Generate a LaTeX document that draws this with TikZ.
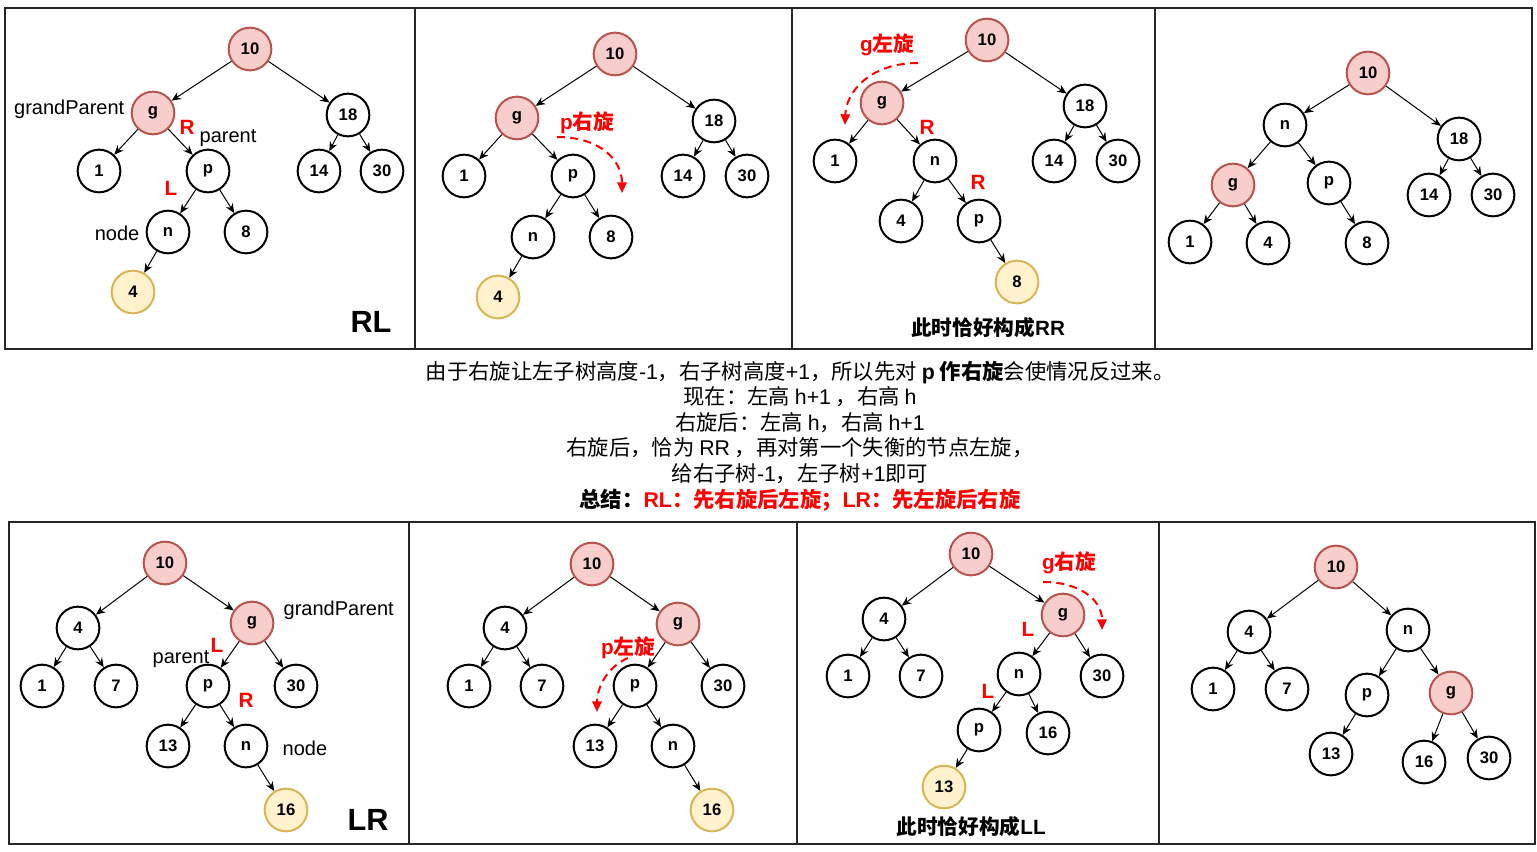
\documentclass[tikz,border=0pt]{standalone}
\usepackage{fontspec}
\setmainfont{Liberation Sans}
\newfontfamily\cjk{Noto Sans CJK SC}
\usetikzlibrary{arrows.meta}
\definecolor{pinkfill}{HTML}{F8CECC}
\definecolor{pinkline}{HTML}{B85450}
\definecolor{yelfill}{HTML}{FFF2CC}
\definecolor{yelline}{HTML}{D6B656}
\newcommand{\la}[1]{{\rmfamily #1}}

\begin{document}
\begin{tikzpicture}[x=0.75pt, y=-0.75pt,
    nd/.style={circle, draw, line width=1.5pt, minimum size=32pt, inner sep=0pt, fill=white, font=\fontsize{12.5}{12.5}\selectfont\bfseries},
    pk/.style={nd, draw=pinkline, fill=pinkfill},
    yl/.style={nd, draw=yelline, fill=yelfill},
    link/.style={-{Stealth[length=7pt, width=6pt]}, line width=0.75pt},
    panel/.style={line width=1.5pt, draw=black!85},
    note/.style={font=\fontsize{15}{15}\selectfont},
    redtag/.style={text=red, font=\fontsize{15.5}{15.5}\selectfont\bfseries},
    turn/.style={red, line width=1.5pt, dash pattern=on 6pt off 4pt, -{Triangle[length=8pt, width=7pt]}},
    big/.style={font=\fontsize{23}{23}\selectfont\bfseries},
    caption/.style={font=\cjk\fontsize{15.5}{15.5}\selectfont\bfseries}]

    \useasboundingbox (0,0) rectangle (1537,852);

    % FRAMES
    \draw[panel] (5,8) rectangle (415,349);
    \draw[panel] (415,8) rectangle (792,349);
    \draw[panel] (792,8) rectangle (1155,349);
    \draw[panel] (1155,8) rectangle (1532,349);
    \draw[panel] (9,522) rectangle (409,844);
    \draw[panel] (409,522) rectangle (797,844);
    \draw[panel] (797,522) rectangle (1159,844);
    \draw[panel] (1159,522) rectangle (1535,844);

    % RL: START
    \node[pk] (ta10) at (250,49) {10};
    \node[pk] (tag) at (153,113) {g};
    \node[nd] (ta1) at (99,171) {1};
    \node[nd] (tap) at (208,171) {p};
    \node[nd] (tan) at (168,232) {n};
    \node[nd] (ta8) at (246,232) {8};
    \node[yl] (ta4) at (133,292) {4};
    \node[nd] (ta18) at (348,115) {18};
    \node[nd] (ta14) at (319,171) {14};
    \node[nd] (ta30) at (382,171) {30};
    \draw[link] (ta10) edge (tag) edge (ta18) (tag) edge (ta1) edge (tap)
        (tap) edge (tan) edge (ta8) (tan) edge (ta4) (ta18) edge (ta14) edge (ta30);
    \node[note, anchor=east] (tagp) at (129,109) {grandParent};
    \node[note] (tapp) at (228,138) {parent};
    \node[note, anchor=east] (tann) at (144,233) {node};
    \node[redtag] (taR) at (187,127) {R};
    \node[redtag] (taL) at (171,188) {L};
    \node[big] (taRL) at (371,322) {RL};

    % RL: P RIGHT ROTATION
    \node[pk] (tb10) at (615,54) {10};
    \node[pk] (tbg) at (517,118) {g};
    \node[nd] (tb1) at (464,176) {1};
    \node[nd] (tbp) at (573,176) {p};
    \node[nd] (tbn) at (533,237) {n};
    \node[nd] (tb8) at (611,237) {8};
    \node[yl] (tb4) at (498,297) {4};
    \node[nd] (tb18) at (714,121) {18};
    \node[nd] (tb14) at (683,176) {14};
    \node[nd] (tb30) at (747,176) {30};
    \draw[link] (tb10) edge (tbg) edge (tb18) (tbg) edge (tb1) edge (tbp)
        (tbp) edge (tbn) edge (tb8) (tbn) edge (tb4) (tb18) edge (tb14) edge (tb30);
    \node[redtag] (tbrot) at (587,123) {\la{p}{\cjk 右旋}};
    \draw[turn] (557,137) .. controls (600,137) and (622,160) .. (622,193);

    % RL: NOW RR
    \node[pk] (tc10) at (987,40) {10};
    \node[pk] (tcg) at (882,103) {g};
    \node[nd] (tc1) at (835,161) {1};
    \node[nd] (tcn) at (935,161) {n};
    \node[nd] (tc4) at (901,221) {4};
    \node[nd] (tcp) at (979,221) {p};
    \node[yl] (tc8) at (1017,282) {8};
    \node[nd] (tc18) at (1085,106) {18};
    \node[nd] (tc14) at (1054,161) {14};
    \node[nd] (tc30) at (1118,161) {30};
    \draw[link] (tc10) edge (tcg) edge (tc18) (tcg) edge (tc1) edge (tcn)
        (tcn) edge (tc4) edge (tcp) (tcp) edge (tc8) (tc18) edge (tc14) edge (tc30);
    \node[redtag] (tcrot) at (887,45) {\la{g}{\cjk 左旋}};
    \draw[turn] (918,63) .. controls (870,63) and (846,92) .. (845,125);
    \node[redtag] (tcR1) at (927,127) {R};
    \node[redtag] (tcR2) at (978,182) {R};
    \node[caption] (tccap) at (988,328) {此时恰好构成\la{RR}};

    % RL: G LEFT ROTATION
    \node[pk] (td10) at (1368,73) {10};
    \node[nd] (tdn) at (1285,125) {n};
    \node[pk] (tdg) at (1233,185) {g};
    \node[nd] (tdp) at (1329,183) {p};
    \node[nd] (td1) at (1190,242) {1};
    \node[nd] (td4) at (1268,243) {4};
    \node[nd] (td8) at (1367,243) {8};
    \node[nd] (td18) at (1459,139) {18};
    \node[nd] (td14) at (1429,195) {14};
    \node[nd] (td30) at (1493,195) {30};
    \draw[link] (td10) edge (tdn) edge (td18) (tdn) edge (tdg) edge (tdp)
        (tdg) edge (td1) edge (td4) (tdp) edge (td8) (td18) edge (td14) edge (td30);

    % EXPLANATION
    \node[font=\cjk\fontsize{16}{19.2}\selectfont, align=center] (text) at (800,436) {%
        由于右旋让左子树高度\la{-1}，右子树高度\la{+1}，所以先对 \textbf{\la{p} 作右旋}会使情况反过来。\\
        现在：左高 \la{h+1} ，右高 \la{h}\\
        右旋后：左高 \la{h}，右高 \la{h+1}\\
        右旋后，恰为 \la{RR} ，再对第一个失衡的节点左旋，\\
        给右子树\la{-1}，左子树\la{+1}即可\\
        \textbf{总结：\textcolor{red}{\la{RL}：先右旋后左旋；\la{LR}：先左旋后右旋}}};

    % LR: START
    \node[pk] (ba10) at (165,563) {10};
    \node[nd] (ba4) at (78,628) {4};
    \node[pk] (bag) at (252,623) {g};
    \node[nd] (ba1) at (42,686) {1};
    \node[nd] (ba7) at (116,686) {7};
    \node[nd] (bap) at (208,686) {p};
    \node[nd] (ba30) at (296,686) {30};
    \node[nd] (ba13) at (168,746) {13};
    \node[nd] (ban) at (246,746) {n};
    \node[yl] (ba16) at (286,810) {16};
    \draw[link] (ba10) edge (ba4) edge (bag) (ba4) edge (ba1) edge (ba7)
        (bag) edge (bap) edge (ba30) (bap) edge (ba13) edge (ban) (ban) edge (ba16);
    \node[note, anchor=west] (bagp) at (279,610) {grandParent};
    \node[note] (bapp) at (181,659) {parent};
    \node[note, anchor=west] (bann) at (278,748) {node};
    \node[redtag] (baL) at (217,645) {L};
    \node[redtag] (baR) at (246,700) {R};
    \node[big] (baLR) at (368,820) {LR};

    % LR: P LEFT ROTATION
    \node[pk] (bb10) at (592,564) {10};
    \node[nd] (bb4) at (505,628) {4};
    \node[pk] (bbg) at (678,624) {g};
    \node[nd] (bb1) at (469,686) {1};
    \node[nd] (bb7) at (542,686) {7};
    \node[nd] (bbp) at (635,686) {p};
    \node[nd] (bb30) at (723,686) {30};
    \node[nd] (bb13) at (595,746) {13};
    \node[nd] (bbn) at (673,746) {n};
    \node[yl] (bb16) at (712,810) {16};
    \draw[link] (bb10) edge (bb4) edge (bbg) (bb4) edge (bb1) edge (bb7)
        (bbg) edge (bbp) edge (bb30) (bbp) edge (bb13) edge (bbn) (bbn) edge (bb16);
    \node[redtag] (bbrot) at (628,648) {\la{p}{\cjk 左旋}};
    \draw[turn] (628,658) .. controls (605,668) and (597,690) .. (597,712);

    % LR: NOW LL
    \node[pk] (bc10) at (971,554) {10};
    \node[nd] (bc4) at (884,619) {4};
    \node[pk] (bcg) at (1063,615) {g};
    \node[nd] (bc1) at (848,676) {1};
    \node[nd] (bc7) at (921,676) {7};
    \node[nd] (bcn) at (1019,674) {n};
    \node[nd] (bc30) at (1102,676) {30};
    \node[nd] (bcp) at (979,730) {p};
    \node[nd] (bc16) at (1048,733) {16};
    \node[yl] (bc13) at (944,787) {13};
    \draw[link] (bc10) edge (bc4) edge (bcg) (bc4) edge (bc1) edge (bc7)
        (bcg) edge (bcn) edge (bc30) (bcn) edge (bcp) edge (bc16) (bcp) edge (bc13);
    \node[redtag] (bcrot) at (1069,563) {\la{g}{\cjk 右旋}};
    \draw[turn] (1043,582) .. controls (1080,582) and (1102,600) .. (1102,630);
    \node[redtag] (bcL1) at (1028,629) {L};
    \node[redtag] (bcL2) at (988,691) {L};
    \node[caption] (bccap) at (971,827) {此时恰好构成\la{LL}};

    % LR: G RIGHT ROTATION
    \node[pk] (bd10) at (1336,567) {10};
    \node[nd] (bd4) at (1249,632) {4};
    \node[nd] (bdn) at (1408,630) {n};
    \node[nd] (bd1) at (1213,689) {1};
    \node[nd] (bd7) at (1287,689) {7};
    \node[nd] (bdp) at (1367,695) {p};
    \node[pk] (bdg) at (1451,693) {g};
    \node[nd] (bd13) at (1331,754) {13};
    \node[nd] (bd16) at (1424,762) {16};
    \node[nd] (bd30) at (1489,758) {30};
    \draw[link] (bd10) edge (bd4) edge (bdn) (bd4) edge (bd1) edge (bd7)
        (bdn) edge (bdp) edge (bdg) (bdp) edge (bd13) (bdg) edge (bd16) edge (bd30);

\end{tikzpicture}
\end{document}
